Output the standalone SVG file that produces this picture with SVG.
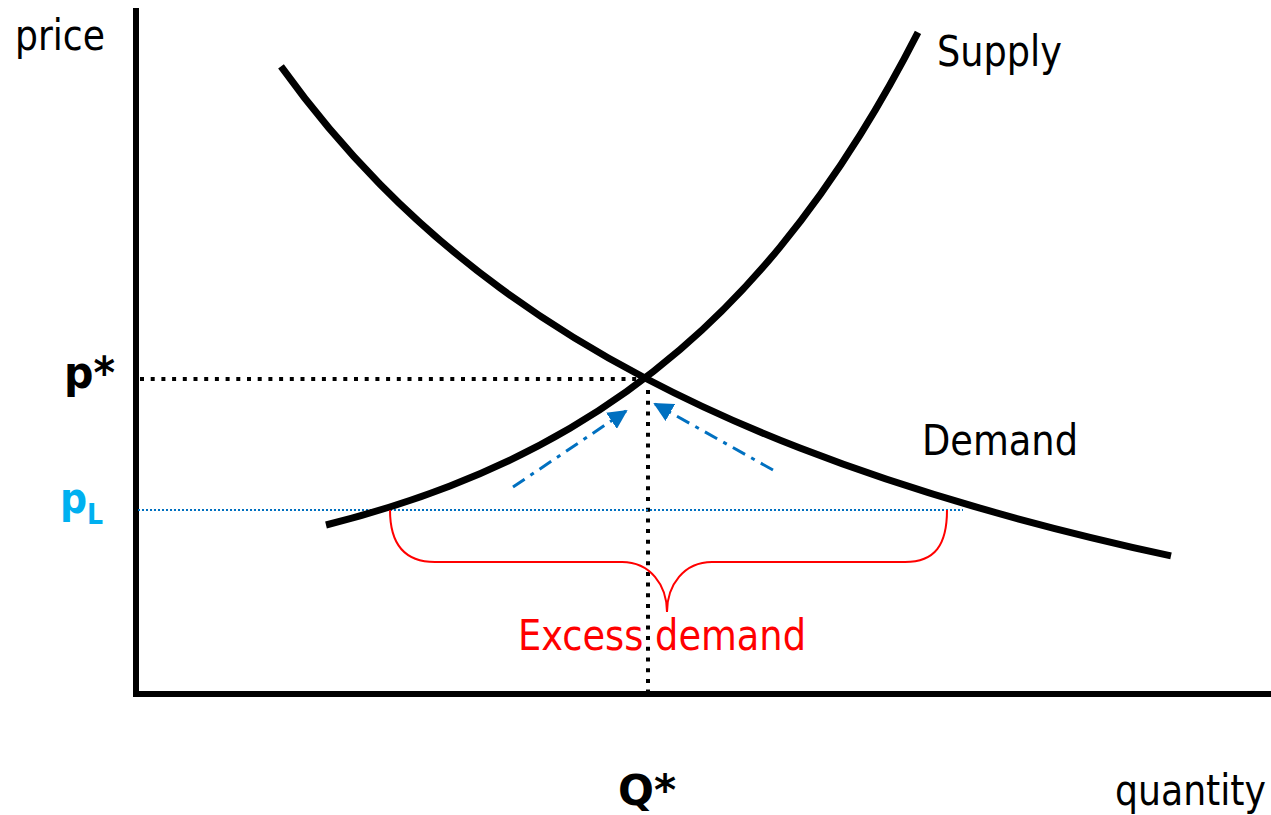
<svg xmlns="http://www.w3.org/2000/svg" width="1271" height="815" viewBox="0 0 1271 815">
<defs>
<style>
.t{font-family:"DejaVu Sans Condensed","DejaVu Sans",sans-serif;font-size:42px;fill:#000}
.b{font-weight:bold}
.curve{fill:none;stroke:#000;stroke-width:7}
.axis{fill:none;stroke:#000;stroke-width:6}
.dot{fill:none;stroke:#000;stroke-width:4;stroke-dasharray:4 6.7}
.arr{fill:none;stroke:#0070C0;stroke-width:3;stroke-dasharray:14 7 4 7}
</style>
<marker id="ah" viewBox="0 0 10 10" refX="9" refY="5" markerWidth="6.5" markerHeight="6.5" markerUnits="strokeWidth" orient="auto">
<path d="M0,0 L10,5 L0,10 Z" fill="#0070C0"/>
</marker>
</defs>
<rect width="1271" height="815" fill="#fff"/>
<g id="axes">
<line class="axis" x1="136" y1="8" x2="136" y2="697"/>
<line class="axis" x1="133" y1="694" x2="1271" y2="694"/>
</g>
<g id="guides">
<line class="dot" x1="140" y1="379" x2="640" y2="379"/>
<line class="dot" x1="648" y1="390" x2="648" y2="693"/>
<line x1="138" y1="510" x2="963" y2="510" stroke="#0070C0" stroke-width="2" stroke-dasharray="2 2"/>
</g>
<g id="demand">
<path class="curve" d="M281,66.4 C314,112.3 347,150.7 380,184.2 C420,224.9 460,258.5 500,287.9 C548.3,323.4 596.7,352.6 645,378 C696.7,405.2 748.3,428 800,448.1 C860,471.4 920,491 980,508.2 C1043.7,526.5 1107.3,542.1 1171,555.9"/>
</g>
<g id="supply">
<path class="curve" d="M326,525 C367.3,514.6 408.7,501.9 450,485.9 C490,470.4 530,451.8 570,428.3 C606.7,406.8 643.3,381.2 680,349.7 C713.3,321.1 746.7,287.6 780,247.1 C806.7,214.7 833.3,177.9 860,135.2 C879.3,104.3 898.7,70.2 918,32.4"/>
</g>
<g id="connectors">
<line class="arr" x1="513" y1="487" x2="626" y2="411" marker-end="url(#ah)"/>
<line class="arr" x1="773" y1="470" x2="655" y2="404" marker-end="url(#ah)"/>
</g>
<g id="brace">
<path d="M390,510 C390,545 405,562 435,562 L622,562 C650,562 667,585 667,612 C667,585 684,562 712,562 L905,562 C935,562 947,545 947,510" fill="none" stroke="#FF0000" stroke-width="2"/>
</g>
<g id="labels">
<text class="t" x="15" y="50" textLength="90" lengthAdjust="spacingAndGlyphs">price</text>
<text class="t" x="937" y="66" textLength="125" lengthAdjust="spacingAndGlyphs">Supply</text>
<text class="t" x="922" y="455" textLength="156" lengthAdjust="spacingAndGlyphs">Demand</text>
<text class="t b" x="64" y="388" style="font-size:44px" textLength="51" lengthAdjust="spacingAndGlyphs">p*</text>
<text class="t b" x="60" y="513" style="fill:#00B0F0;font-size:42px">p<tspan dy="11" style="font-size:28px">L</tspan></text>
<text class="t" x="518" y="650" style="fill:#FF0000" textLength="288" lengthAdjust="spacingAndGlyphs">Excess demand</text>
<text class="t b" x="618" y="805" textLength="58" lengthAdjust="spacingAndGlyphs">Q*</text>
<text class="t" x="1115" y="805" textLength="151" lengthAdjust="spacingAndGlyphs">quantity</text>
</g>
</svg>
